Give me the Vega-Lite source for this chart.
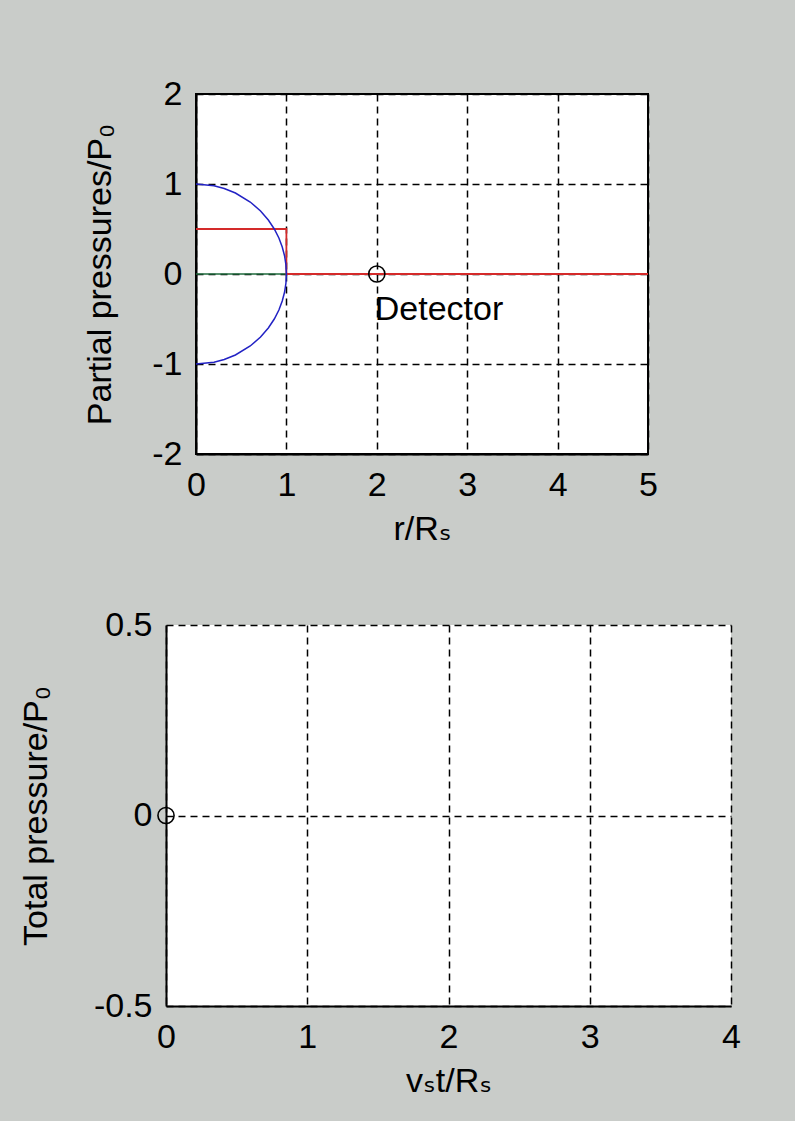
{
  "$schema": "https://vega.github.io/schema/vega-lite/v6.json",
  "background": "#c9ccc9",
  "padding": {"left": 0, "top": 76, "right": 60, "bottom": 40},
  "config": {
    "font": "Liberation Sans",
    "axis": {
      "labelFont": "Liberation Sans, DejaVu Sans, sans-serif",
      "titleFont": "Liberation Sans, DejaVu Sans, sans-serif",
      "labelFontSize": 34,
      "titleFontSize": 34,
      "titleFontWeight": "normal",
      "labelColor": "black",
      "titleColor": "black",
      "ticks": false,
      "labelFlush": false,
      "labelOverlap": false,
      "grid": true,
      "gridColor": "black",
      "gridDash": [7, 5],
      "gridWidth": 1.5,
      "gridOpacity": 1,
      "domainColor": "black",
      "domainWidth": 2,
      "labelExpr": "'' + datum.value"
    },
    "view": {"fill": "white", "stroke": null}
  },
  "datasets": {
    "blue": [
      {"k": 0, "r": 0, "p": 1},
      {"k": 1, "r": 0.199, "p": 0.98},
      {"k": 2, "r": 0.312, "p": 0.95},
      {"k": 3, "r": 0.436, "p": 0.9},
      {"k": 4, "r": 0.6, "p": 0.8},
      {"k": 5, "r": 0.714, "p": 0.7},
      {"k": 6, "r": 0.8, "p": 0.6},
      {"k": 7, "r": 0.866, "p": 0.5},
      {"k": 8, "r": 0.917, "p": 0.4},
      {"k": 9, "r": 0.954, "p": 0.3},
      {"k": 10, "r": 0.98, "p": 0.2},
      {"k": 11, "r": 0.995, "p": 0.1},
      {"k": 12, "r": 1, "p": 0},
      {"k": 13, "r": 0.995, "p": -0.1},
      {"k": 14, "r": 0.98, "p": -0.2},
      {"k": 15, "r": 0.954, "p": -0.3},
      {"k": 16, "r": 0.917, "p": -0.4},
      {"k": 17, "r": 0.866, "p": -0.5},
      {"k": 18, "r": 0.8, "p": -0.6},
      {"k": 19, "r": 0.714, "p": -0.7},
      {"k": 20, "r": 0.6, "p": -0.8},
      {"k": 21, "r": 0.436, "p": -0.9},
      {"k": 22, "r": 0.312, "p": -0.95},
      {"k": 23, "r": 0.199, "p": -0.98},
      {"k": 24, "r": 0, "p": -1}
    ],
    "red": [
      {"k": 0, "r": 0, "p": 0.5},
      {"k": 1, "r": 1, "p": 0.5},
      {"k": 2, "r": 1, "p": 0},
      {"k": 3, "r": 5, "p": 0}
    ],
    "green": [
      {"k": 0, "r": 0, "p": 0},
      {"k": 1, "r": 1, "p": 0}
    ],
    "detector": [
      {"r": 2, "p": 0, "label": "Detector", "ty": -0.51}
    ],
    "total": [
      {"t": 0, "P": 0}
    ],
    "empty": []
  },
  "spacing": 61,
  "vconcat": [
    {
      "spacing": 0,
      "hconcat": [
        {
          "width": 82,
          "height": 10,
          "view": {"fill": null, "stroke": null},
          "data": {"name": "empty"},
          "mark": "point",
          "encoding": {}
        },
        {
          "width": 452,
          "height": 360,
          "view": {"fill": "white", "stroke": "black", "strokeWidth": 2},
          "encoding": {
            "x": {
              "field": "r",
              "type": "quantitative",
              "scale": {"domain": [0, 5], "nice": false, "zero": false},
              "axis": {"values": [0, 1, 2, 3, 4, 5], "title": "r/Rₛ", "labelPadding": 14, "titlePadding": 10}
            },
            "y": {
              "field": "p",
              "type": "quantitative",
              "scale": {"domain": [-2, 2], "nice": false, "zero": false},
              "axis": {"values": [-2, -1, 0, 1, 2], "title": "Partial pressures/P₀", "labelPadding": 14, "titlePadding": 34}
            }
          },
          "layer": [
            {
              "data": {"name": "green"},
              "mark": {"type": "line", "color": "#1f6a3c", "strokeWidth": 1.5},
              "encoding": {"order": {"field": "k"}}
            },
            {
              "data": {"name": "red"},
              "mark": {"type": "line", "color": "#d42a2a", "strokeWidth": 1.8},
              "encoding": {"order": {"field": "k"}}
            },
            {
              "data": {"name": "blue"},
              "mark": {"type": "line", "color": "#2222c4", "strokeWidth": 1.5},
              "encoding": {"order": {"field": "k"}}
            },
            {
              "data": {"name": "detector"},
              "mark": {"type": "point", "shape": "circle", "filled": false, "color": "black", "size": 260, "strokeWidth": 1.6, "opacity": 1},
              "encoding": {}
            },
            {
              "data": {"name": "detector"},
              "mark": {"type": "text", "align": "left", "baseline": "alphabetic", "fontSize": 34, "font": "Liberation Sans", "color": "black", "dx": -2},
              "encoding": {
                "y": {"field": "ty", "type": "quantitative"},
                "text": {"field": "label"}
              }
            }
          ]
        }
      ]
    },
    {
      "spacing": 0,
      "hconcat": [
        {
          "width": 19,
          "height": 10,
          "view": {"fill": null, "stroke": null},
          "data": {"name": "empty"},
          "mark": "point",
          "encoding": {}
        },
        {
          "width": 565,
          "height": 381,
          "view": {"fill": "white", "stroke": null},
          "data": {"name": "total"},
          "mark": {"type": "point", "shape": "circle", "filled": false, "color": "black", "size": 260, "strokeWidth": 1.6, "opacity": 1},
          "encoding": {
            "x": {
              "field": "t",
              "type": "quantitative",
              "scale": {"domain": [0, 4], "nice": false, "zero": false},
              "axis": {"values": [0, 1, 2, 3, 4], "title": "vₛt/Rₛ", "labelPadding": 14, "titlePadding": 10}
            },
            "y": {
              "field": "P",
              "type": "quantitative",
              "scale": {"domain": [-0.5, 0.5], "nice": false, "zero": false},
              "axis": {"values": [-0.5, 0, 0.5], "title": "Total pressure/P₀", "labelPadding": 14, "titlePadding": 40}
            }
          }
        }
      ]
    }
  ]
}
